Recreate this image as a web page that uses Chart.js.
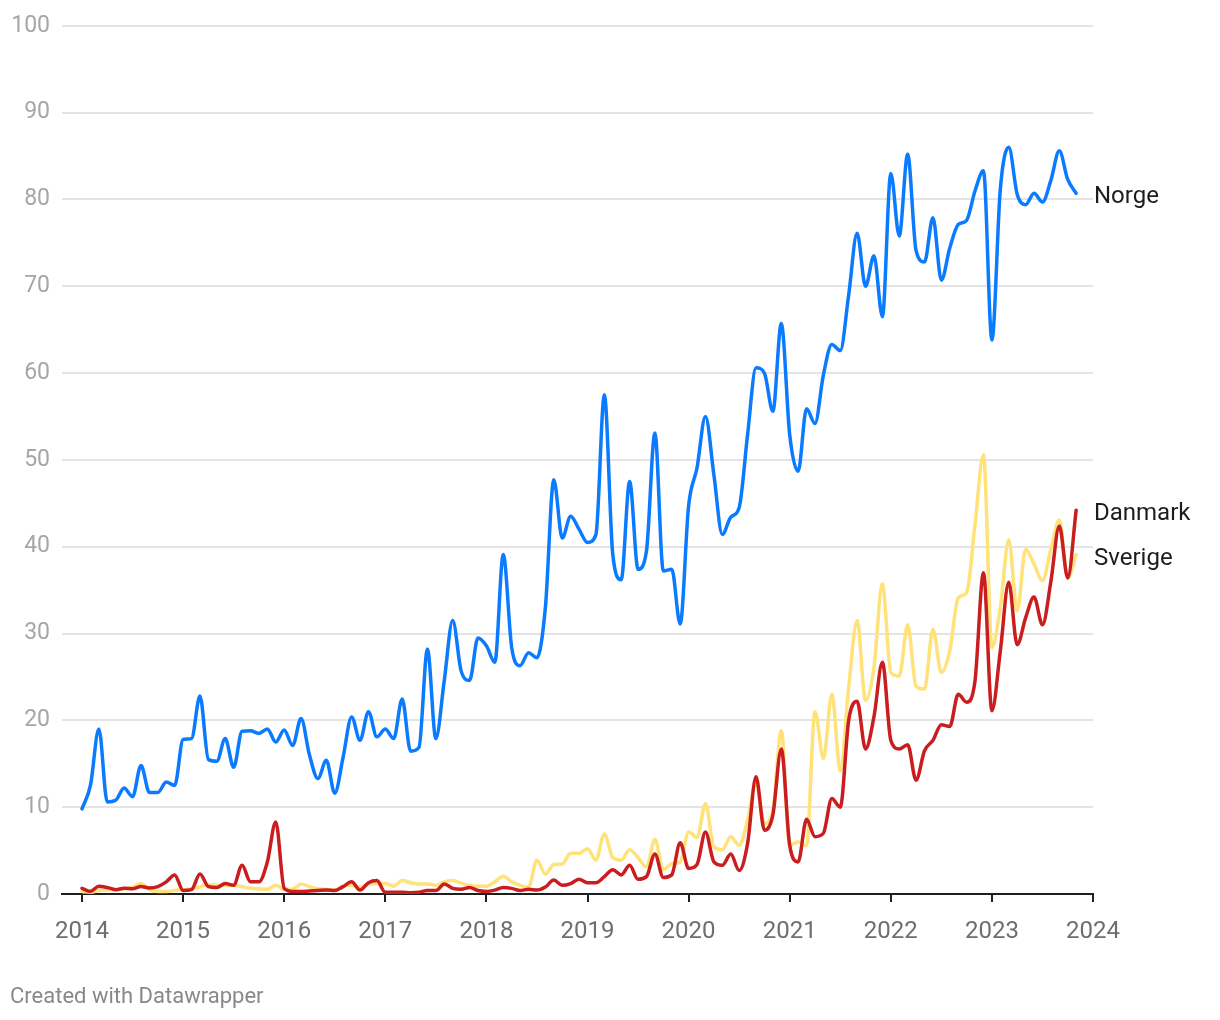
<!DOCTYPE html>
<html>
<head>
<meta charset="utf-8">
<script src="https://cdn.jsdelivr.net/npm/chart.js@4.4.1/dist/chart.umd.min.js"></script>
<style>
  html, body { margin: 0; padding: 0; background: #ffffff; }
  #wrap { position: relative; width: 1220px; height: 1020px; }
  #footer { position: absolute; left: 10px; top: 983px; font-family: Roboto, "Noto Sans", sans-serif; font-size: 22px; color: #888888; }
</style>
</head>
<body>
<div id="wrap">
  <canvas id="c" width="1220" height="1020"></canvas>
  <div id="footer">Created with Datawrapper</div>
</div>
<script>
// Monthly series, January 2014 to November 2023
const startYear = 2014;
const seriesNames = ['Norge', 'Danmark', 'Sverige'];
const xTickLabels = ['2014','2015','2016','2017','2018','2019','2020','2021','2022','2023','2024'];
const yTickValues = [0,10,20,30,40,50,60,70,80,90,100];

const norge = [
  9.8,12.5,19.0,10.6,10.8,12.2,11.2,14.8,11.7,11.7,
  12.9,12.5,17.8,17.9,22.8,15.5,15.3,17.9,14.6,18.75,
  18.8,18.5,19.0,17.5,18.9,17.1,20.2,16.0,13.3,15.4,
  11.6,15.8,20.4,17.7,21.0,18.1,19.0,17.9,22.45,16.45,
  16.9,28.2,17.9,24.6,31.5,25.7,24.6,29.5,28.6,26.7,
  39.1,28.4,26.3,27.8,27.2,33.0,47.7,41.0,43.5,42.0,
  40.5,41.4,57.5,39.1,36.2,47.5,37.4,39.5,53.1,37.2,
  37.4,31.1,44.7,49.1,55.0,48.3,41.4,43.4,44.5,52.9,
  60.6,60.0,55.6,65.7,52.9,48.7,55.9,54.2,59.8,63.3,
  62.6,69.0,76.1,70.0,73.5,66.5,83.0,75.8,85.2,74.1,
  72.8,77.9,70.7,74.4,77.1,77.6,81.0,83.3,63.8,81.2,
  86.0,80.6,79.4,80.7,79.7,82.2,85.6,82.3,80.7
];
const danmark = [
  0.65,0.3,0.9,0.75,0.5,0.65,0.6,0.85,0.7,0.85,
  1.4,2.2,0.4,0.5,2.3,0.85,0.75,1.2,1.0,3.3,
  1.4,1.4,3.7,8.3,0.65,0.3,0.3,0.35,0.4,0.45,
  0.4,0.85,1.4,0.45,1.3,1.55,0.2,0.2,0.2,0.15,
  0.2,0.4,0.4,1.15,0.65,0.55,0.75,0.4,0.3,0.45,
  0.75,0.65,0.4,0.55,0.45,0.8,1.6,1.0,1.2,1.7,
  1.3,1.3,2.0,2.8,2.2,3.3,1.7,2.0,4.6,1.9,
  2.2,5.9,2.95,3.4,7.15,3.7,3.3,4.6,2.7,5.8,
  13.5,7.35,9.1,16.7,5.6,3.7,8.6,6.6,7.0,11.0,
  10.0,20.0,22.2,16.7,20.4,26.7,17.7,16.7,17.2,13.1,
  16.5,17.7,19.5,19.3,23.0,22.1,24.6,37.0,21.1,28.0,
  35.9,28.7,31.8,34.2,31.0,36.0,42.4,36.4,44.2
];
const sverige = [
  0.3,0.2,0.4,0.5,0.5,0.6,0.8,1.2,0.5,0.3,
  0.3,0.4,0.5,0.6,0.8,1.1,1.0,1.0,1.0,0.85,
  0.65,0.6,0.55,1.0,0.55,0.55,1.15,0.85,0.6,0.55,
  0.45,0.9,1.0,0.8,1.15,1.2,1.2,0.9,1.55,1.3,
  1.15,1.15,1.0,1.4,1.55,1.25,0.95,0.9,0.9,1.4,
  2.05,1.4,1.0,0.8,3.9,2.3,3.4,3.45,4.7,4.7,
  5.2,3.9,6.9,4.2,3.9,5.1,4.2,3.1,6.3,2.8,
  3.5,3.7,7.15,6.5,10.4,5.4,5.1,6.6,5.6,8.5,
  12.8,8.1,9.6,18.8,5.6,6.0,5.6,21.0,15.6,23.0,
  14.2,23.8,31.5,22.3,26.1,35.7,25.5,25.1,31.0,23.9,
  23.6,30.5,25.5,28.0,34.1,34.7,42.6,50.6,28.4,33.0,
  40.8,32.6,39.7,38.0,36.1,39.7,43.1,36.4,39.1
];

const toPoints = arr => arr.map((v, i) => ({ x: i, y: v }));

const endLabels = {
  id: 'endLabels',
  afterDatasetsDraw(chart) {
    const ctx = chart.ctx;
    ctx.save();
    ctx.font = '24px Roboto, "Noto Sans", sans-serif';
    ctx.fillStyle = '#1d1d1d';
    ctx.textAlign = 'left';
    ctx.textBaseline = 'middle';
    chart.data.datasets.forEach((ds, i) => {
      const meta = chart.getDatasetMeta(i);
      const last = meta.data[meta.data.length - 1];
      ctx.fillText(ds.label, chart.chartArea.right + 1, last.y + 4);
    });
    ctx.restore();
  }
};

new Chart(document.getElementById('c'), {
  type: 'line',
  data: {
    datasets: [
      { label: seriesNames[0], data: toPoints(norge), borderColor: '#0a7bff', order: 0 },
      { label: seriesNames[1], data: toPoints(danmark), borderColor: '#c91d1f', order: 1 },
      { label: seriesNames[2], data: toPoints(sverige), borderColor: '#ffe27a', order: 2 }
    ]
  },
  options: {
    responsive: false,
    animation: false,
    devicePixelRatio: 1,
    layout: { padding: { left: 0, right: 127, top: 23, bottom: 66 } },
    elements: {
      point: { radius: 0, hoverRadius: 0 },
      line: { borderWidth: 3.5, cubicInterpolationMode: 'monotone', borderCapStyle: 'round', borderJoinStyle: 'round' }
    },
    plugins: { legend: { display: false }, tooltip: { enabled: false } },
    scales: {
      x: {
        type: 'linear',
        min: -2400 / 1011,
        max: 120,
        afterBuildTicks: s => { s.ticks = xTickLabels.map((t, i) => ({ value: i * 12 })); },
        afterFit: s => { s.height = 60; },
        border: { display: true, color: '#1f1f1f', width: 2 },
        grid: { drawOnChartArea: false, drawTicks: true, tickLength: 8, color: '#1f1f1f', lineWidth: 2 },
        ticks: {
          autoSkip: false, maxRotation: 0, padding: 16,
          color: '#6e6e6e',
          font: { family: 'Roboto', size: 24 },
          callback: v => xTickLabels[Math.round(v / 12)]
        }
      },
      y: {
        min: 0,
        max: 100,
        afterBuildTicks: s => { s.ticks = yTickValues.map(v => ({ value: v })); },
        afterFit: s => { s.width = 62; },
        border: { display: false },
        grid: { drawTicks: false, color: '#e4e4e4', lineWidth: 2 },
        ticks: {
          padding: 12,
          color: '#a6a6a6',
          font: { family: 'Roboto', size: 23 }
        }
      }
    }
  },
  plugins: [endLabels]
});
</script>
</body>
</html>
